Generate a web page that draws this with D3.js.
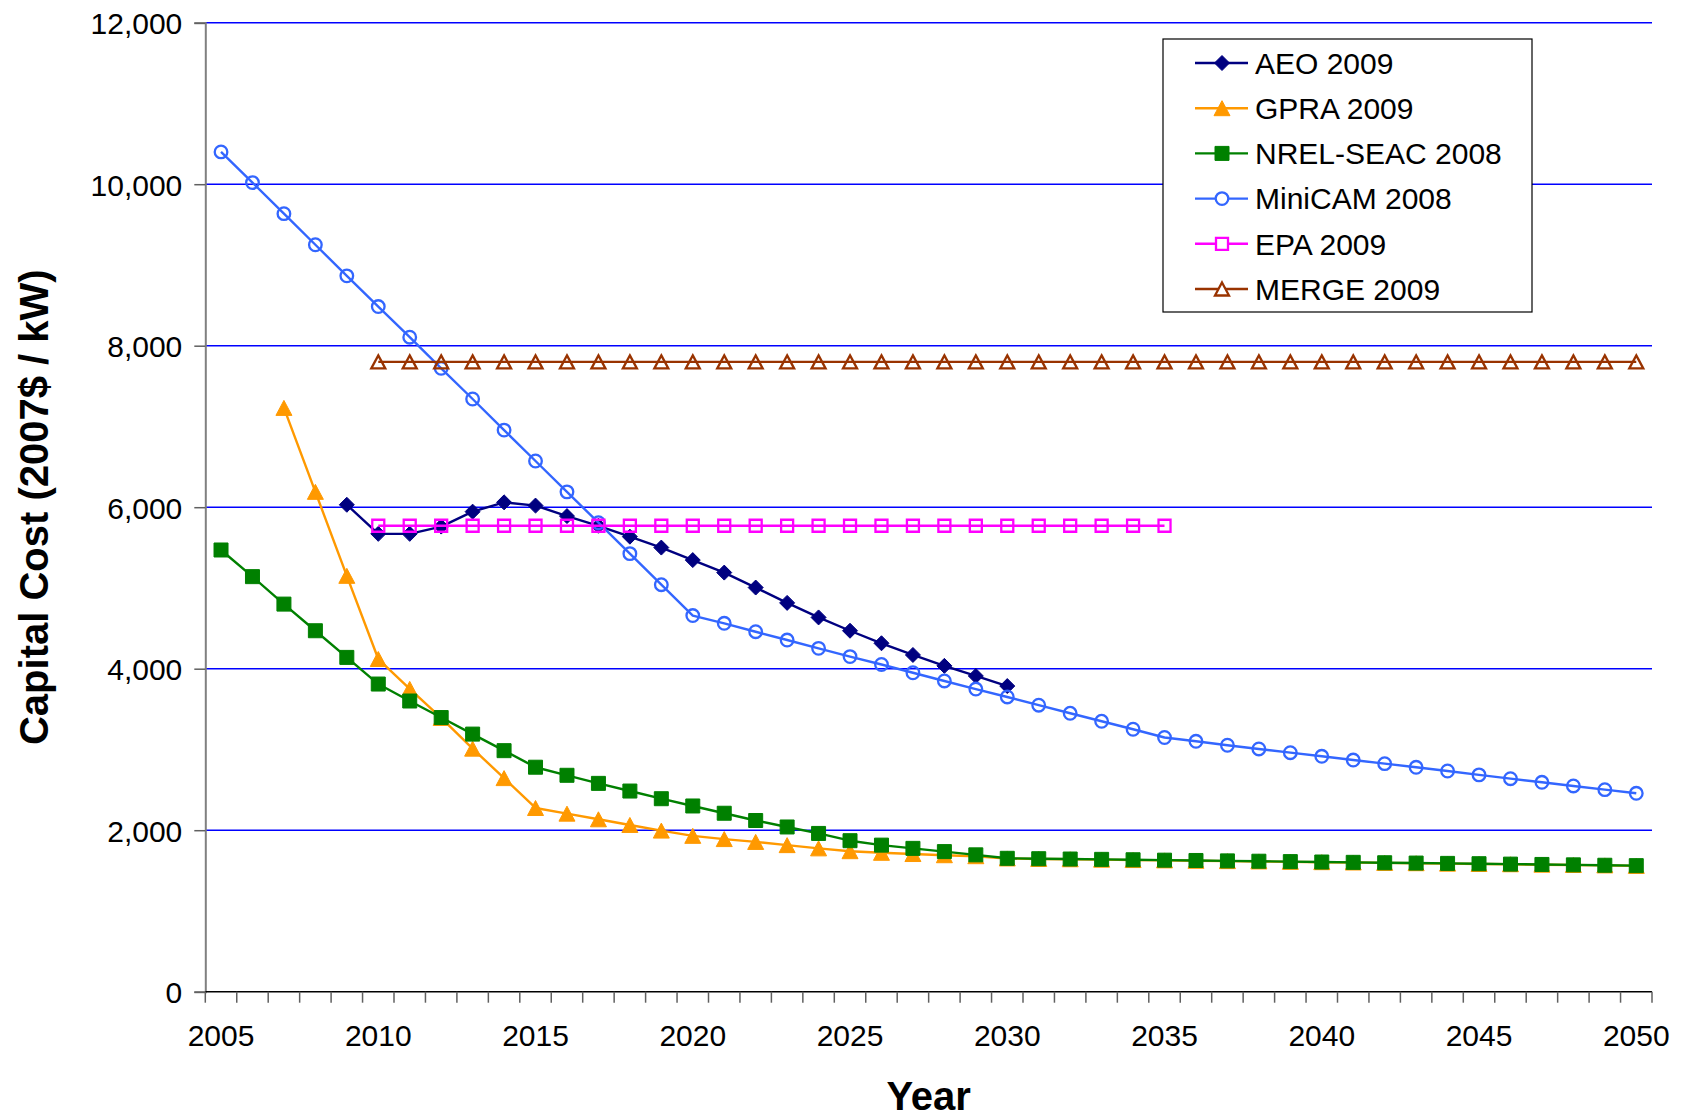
<!DOCTYPE html>
<html>
<head>
<meta charset="utf-8">
<script src="https://cdn.jsdelivr.net/npm/d3@7"></script>
<style>
  html, body { margin: 0; padding: 0; background: #fff; }
  svg { display: block; }
  text { font-family: "Liberation Sans", Arial, sans-serif; }
</style>
</head>
<body>
<svg id="chart" width="1684" height="1118"></svg>
<script>
// ---------------- data ----------------
const yearTicks = [2005, 2010, 2015, 2020, 2025, 2030, 2035, 2040, 2045, 2050];
const yTicks = [0, 2000, 4000, 6000, 8000, 10000, 12000];

const seriesNames = ["AEO 2009", "GPRA 2009", "NREL-SEAC 2008", "MiniCAM 2008", "EPA 2009", "MERGE 2009"];

const aeoStart = 2009;
const aeo2009 = [6030, 5670, 5670, 5760, 5945, 6060, 6020, 5890, 5770, 5635, 5500,
                 5345, 5190, 5005, 4815, 4635, 4470, 4315, 4170, 4035, 3910, 3785];

const gpraStart = 2007;
const gpra2009 = [7230, 6190, 5150, 4120, 3750, 3390, 3010, 2645, 2275, 2205, 2135,
                  2065, 1995, 1930, 1890, 1855, 1815, 1775, 1740, 1720, 1705, 1690, 1678,
                  1650, 1644, 1640, 1635, 1630, 1626, 1621, 1617, 1613, 1608, 1604,
                  1600, 1595, 1591, 1586, 1582, 1578, 1573, 1569, 1564, 1558];

const nrelStart = 2005;
const nrelSeac2008 = [5470, 5140, 4800, 4470, 4140, 3810, 3600, 3395, 3190, 2985,
                      2780, 2680, 2580, 2485, 2390, 2300, 2210, 2120, 2040, 1960,
                      1870, 1815, 1775, 1735, 1695, 1652, 1647, 1643, 1639, 1634,
                      1629, 1625, 1620, 1616, 1611, 1606, 1602, 1597, 1593, 1589,
                      1585, 1580, 1576, 1571, 1566, 1561];

const minicamStart = 2005;
const minicam2008 = [10400, 10020, 9635, 9250, 8865, 8485, 8105, 7720, 7340, 6955,
                     6572, 6190, 5808, 5425, 5040, 4658, 4562, 4458, 4355, 4252,
                     4150, 4052, 3950, 3848, 3748, 3650, 3548, 3448, 3349, 3250,
                     3148, 3101, 3052, 3006, 2960, 2915, 2869, 2824, 2779, 2733,
                     2685, 2638, 2593, 2548, 2502, 2457];

const epaStart = 2010;
const epa2009 = [5770, 5770, 5770, 5770, 5770, 5770, 5770, 5770, 5770, 5770, 5770, 5770, 5770,
                 5770, 5770, 5770, 5770, 5770, 5770, 5770, 5770, 5770, 5770, 5770, 5770, 5770];

const mergeStart = 2010;
const merge2009 = [7800, 7800, 7800, 7800, 7800, 7800, 7800, 7800, 7800, 7800, 7800,
                   7800, 7800, 7800, 7800, 7800, 7800, 7800, 7800, 7800, 7800, 7800,
                   7800, 7800, 7800, 7800, 7800, 7800, 7800, 7800, 7800, 7800, 7800,
                   7800, 7800, 7800, 7800, 7800, 7800, 7800, 7800];

// ---------------- styles ----------------
const series = [
  { name: seriesNames[0], start: aeoStart, values: aeo2009, color: "#000080", marker: "diamond", fill: true },
  { name: seriesNames[1], start: gpraStart, values: gpra2009, color: "#FF9900", marker: "triangle", fill: true },
  { name: seriesNames[2], start: nrelStart, values: nrelSeac2008, color: "#008000", marker: "square", fill: true },
  { name: seriesNames[3], start: minicamStart, values: minicam2008, color: "#3366FF", marker: "circle", fill: false },
  { name: seriesNames[4], start: epaStart, values: epa2009, color: "#FF00FF", marker: "square", fill: false },
  { name: seriesNames[5], start: mergeStart, values: merge2009, color: "#993300", marker: "triangle", fill: false }
];

function markerPath(type, filled) {
  const p = d3.path();
  if (type === "diamond") {
    const r = 7.5;
    p.moveTo(0, -r); p.lineTo(r, 0); p.lineTo(0, r); p.lineTo(-r, 0); p.closePath();
  } else if (type === "triangle") {
    const w = filled ? 8 : 7, h = filled ? 7.5 : 6.5;
    p.moveTo(0, -h); p.lineTo(w, h); p.lineTo(-w, h); p.closePath();
  } else if (type === "square") {
    const s = filled ? 7 : 6;
    p.rect(-s, -s, 2 * s, 2 * s);
  } else if (type === "circle") {
    p.arc(0, 0, 6.3, 0, 2 * Math.PI);
  }
  return p.toString();
}

// ---------------- layout ----------------
const svg = d3.select("#chart");
const plot = { left: 205.3, right: 1652, top: 22.7, bottom: 991.7 };

const x = d3.scaleLinear().domain([2004.5, 2050.5]).range([plot.left, plot.right]);
const y = d3.scaleLinear().domain([0, 12000]).range([plot.bottom, plot.top]);

// gridlines
svg.append("g")
  .selectAll("line")
  .data(yTicks.filter(d => d > 0))
  .join("line")
  .attr("x1", plot.left).attr("x2", plot.right)
  .attr("y1", d => y(d)).attr("y2", d => y(d))
  .attr("stroke", "#0000FF").attr("stroke-width", 1.6);

// y axis
const yAxis = d3.axisLeft(y).tickValues(yTicks).tickSize(11).tickPadding(12)
  .tickFormat(d3.format(","));
const gy = svg.append("g").attr("transform", `translate(${plot.left},0)`).call(yAxis);
gy.select(".domain").attr("stroke", "#808080").attr("stroke-width", 2);
gy.selectAll(".tick line").attr("stroke", "#606060").attr("stroke-width", 1.5);
gy.selectAll(".tick text").attr("font-size", 30).attr("fill", "#000")
  .attr("font-family", "Liberation Sans, Arial, sans-serif").attr("dy", "0.36em");

// x axis: ticks at category boundaries, labels at category centres
const boundaries = d3.range(2004.5, 2051, 1);
const gx = svg.append("g");
gx.append("line")
  .attr("x1", plot.left).attr("x2", plot.right)
  .attr("y1", plot.bottom).attr("y2", plot.bottom)
  .attr("stroke", "#000").attr("stroke-width", 1.5);
gx.selectAll("line.tk")
  .data(boundaries)
  .join("line").attr("class", "tk")
  .attr("x1", d => x(d)).attr("x2", d => x(d))
  .attr("y1", plot.bottom).attr("y2", plot.bottom + 11)
  .attr("stroke", "#606060").attr("stroke-width", 1.5);
gx.selectAll("text")
  .data(yearTicks)
  .join("text")
  .attr("x", d => x(d)).attr("y", 1046)
  .attr("text-anchor", "middle")
  .attr("font-size", 30).attr("fill", "#000")
  .text(d => d);

// axis titles
svg.append("text")
  .attr("x", (plot.left + plot.right) / 2).attr("y", 1110)
  .attr("text-anchor", "middle").attr("font-size", 40).attr("font-weight", "bold")
  .text("Year");
svg.append("text")
  .attr("transform", `translate(48,${(plot.top + plot.bottom) / 2}) rotate(-90)`)
  .attr("text-anchor", "middle").attr("font-size", 40).attr("font-weight", "bold")
  .text("Capital Cost (2007$ / kW)");

// series
const line = d3.line().x(d => x(d.year)).y(d => y(d.value));
series.forEach(s => {
  const pts = s.values.map((v, i) => ({ year: s.start + i, value: v }));
  const g = svg.append("g");
  g.append("path").datum(pts)
    .attr("d", line).attr("fill", "none")
    .attr("stroke", s.color).attr("stroke-width", 2.4).attr("stroke-linejoin", "round");
  g.selectAll("path.m").data(pts).join("path").attr("class", "m")
    .attr("d", markerPath(s.marker, s.fill))
    .attr("transform", d => `translate(${x(d.year)},${y(d.value)})`)
    .attr("fill", s.fill ? s.color : "none")
    .attr("stroke", s.color).attr("stroke-width", s.fill ? 1 : 2.3);
});

// legend
const legend = svg.append("g");
legend.append("rect")
  .attr("x", 1163).attr("y", 39).attr("width", 369).attr("height", 273)
  .attr("fill", "#fff").attr("stroke", "#000").attr("stroke-width", 1.2);
series.forEach((s, i) => {
  const cy = 63 + i * 45.2;
  const g = legend.append("g");
  g.append("line").attr("x1", 1195).attr("x2", 1248).attr("y1", cy).attr("y2", cy)
    .attr("stroke", s.color).attr("stroke-width", 2.4);
  g.append("path").attr("d", markerPath(s.marker, s.fill))
    .attr("transform", `translate(1222,${cy})`)
    .attr("fill", s.fill ? s.color : "#fff")
    .attr("stroke", s.color).attr("stroke-width", s.fill ? 1 : 2.3);
  g.append("text").attr("x", 1255).attr("y", cy + 10.8)
    .attr("font-size", 30).attr("fill", "#000").text(s.name);
});
</script>
</body>
</html>
